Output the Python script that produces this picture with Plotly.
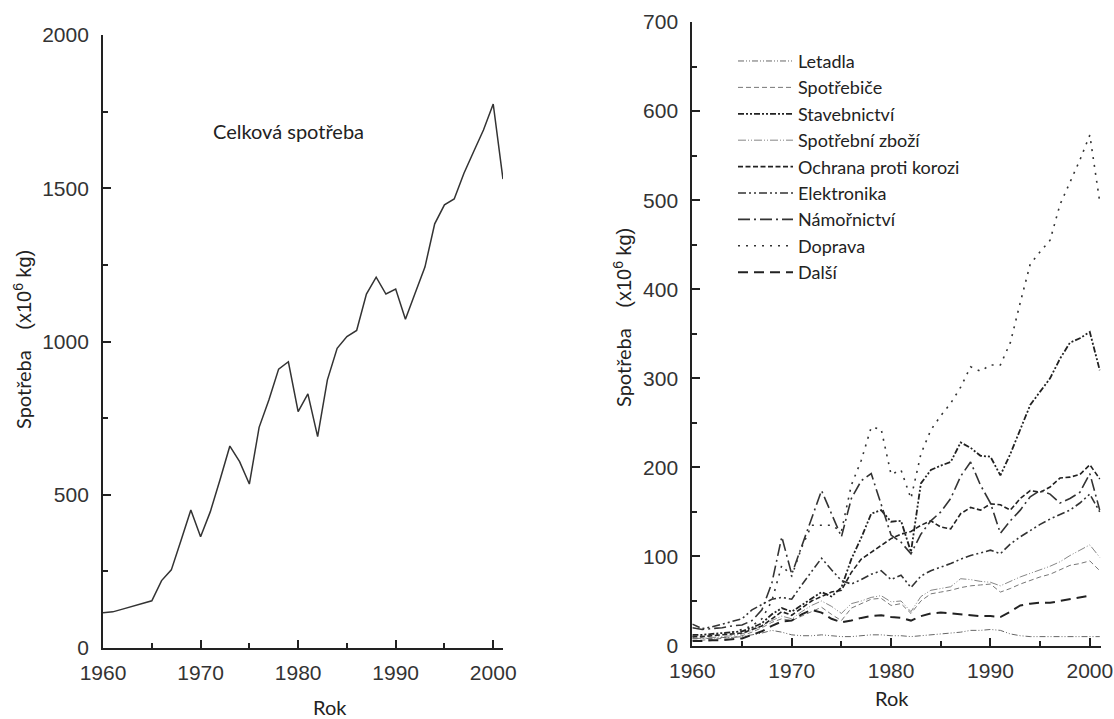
import plotly.graph_objects as go

years = [1960, 1961, 1962, 1963, 1964, 1965, 1966, 1967, 1968, 1969,
         1970, 1971, 1972, 1973, 1974, 1975, 1976, 1977, 1978, 1979,
         1980, 1981, 1982, 1983, 1984, 1985, 1986, 1987, 1988, 1989,
         1990, 1991, 1992, 1993, 1994, 1995, 1996, 1997, 1998, 1999,
         2000, 2001]

celkova = [115, 118, 127, 136, 145, 154, 220, 255, 352, 450,
           363, 445, 550, 659, 608, 535, 720, 809, 910, 934,
           771, 829, 690, 875, 978, 1016, 1036, 1155, 1210, 1155,
           1171, 1073, 1158, 1243, 1384, 1446, 1465, 1549, 1620, 1690,
           1775, 1530]

letadla = [8, 8, 8, 9, 9, 10, 12, 14, 17, 15,
           12, 11, 11, 12, 11, 10, 10, 11, 12, 12,
           11, 11, 10, 11, 12, 13, 14, 15, 17, 17,
           18, 17, 13, 11, 10, 10, 10, 10, 10, 10,
           10, 10]
spotrebice = [6, 6, 7, 8, 9, 11, 15, 20, 26, 30,
              28, 33, 38, 43, 35, 28, 42, 47, 52, 53,
              45, 47, 36, 50, 58, 60, 62, 65, 67, 68,
              69, 60, 64, 69, 73, 77, 80, 85, 90, 92,
              95, 84]
stavebnictvi = [12, 12, 13, 14, 15, 16, 20, 25, 35, 42,
                38, 45, 52, 60, 55, 65, 97, 121, 148, 152,
                139, 140, 105, 182, 197, 202, 206, 228, 222, 213,
                212, 191, 215, 242, 270, 285, 300, 322, 340, 345,
                352, 309]
spotrebni_zbozi = [8, 8, 9, 10, 11, 13, 17, 22, 28, 33,
                   30, 38, 45, 50, 44, 36, 47, 50, 54, 56,
                   49, 50, 38, 55, 62, 64, 66, 75, 74, 72,
                   71, 67, 72, 77, 81, 85, 89, 94, 101, 107,
                   113, 99]
ochrana = [10, 10, 11, 12, 13, 14, 18, 22, 30, 38,
           34, 42, 50, 55, 60, 62, 82, 97, 105, 112,
           120, 125, 128, 135, 140, 133, 131, 148, 155, 152,
           159, 158, 152, 165, 174, 172, 178, 188, 189, 192,
           203, 187]
elektronika = [24, 19, 21, 24, 27, 30, 40, 46, 52, 54,
               52, 68, 83, 98, 85, 73, 69, 74, 80, 84,
               74, 79, 65, 78, 84, 88, 92, 97, 101, 104,
               107, 103, 114, 122, 129, 136, 142, 147, 152, 160,
               170, 150]
namornictvi = [20, 18, 19, 20, 22, 23, 28, 40, 70, 122,
               80, 112, 143, 174, 148, 122, 165, 185, 193, 159,
               124, 116, 103, 125, 140, 150, 165, 190, 206, 180,
               160, 126, 140, 152, 167, 174, 170, 160, 165, 172,
               193, 152]
doprava = [10, 10, 11, 13, 15, 18, 22, 30, 50, 90,
           78, 110, 135, 135, 135, 128, 180, 208, 245, 243,
           192, 197, 165, 215, 242, 258, 272, 290, 313, 308,
           315, 315, 340, 385, 428, 442, 455, 495, 520, 545,
           573, 498]
dalsi = [5, 5, 6, 6, 7, 8, 12, 16, 22, 27,
         28, 35, 40, 37, 30, 26, 28, 31, 33, 34,
         32, 31, 28, 33, 36, 37, 36, 35, 34, 33,
         33, 32, 38, 45, 47, 48, 48, 50, 52, 54,
         56, None]

series_names = ["Letadla", "Spotřebiče", "Stavebnictví", "Spotřební zboží",
                "Ochrana proti korozi", "Elektronika", "Námořnictví", "Doprava", "Další"]
series_values = [letadla, spotrebice, stavebnictvi, spotrebni_zbozi,
                 ochrana, elektronika, namornictvi, doprava, dalsi]
series_styles = [
    dict(color="#666666", width=1.0, dash="6px,2px,1px,2px,1px,2px"),
    dict(color="#777777", width=1.0, dash="5px,3px"),
    dict(color="#222222", width=1.8, dash="6px,2px,2px,2px,2px,2px"),
    dict(color="#777777", width=0.9, dash="8px,2px,1px,2px,1px,2px"),
    dict(color="#222222", width=1.6, dash="5px,2.5px"),
    dict(color="#333333", width=1.6, dash="8px,3px,2px,3px,2px,3px"),
    dict(color="#333333", width=1.6, dash="12px,4px,2px,4px"),
    dict(color="#333333", width=1.6, dash="2px,6px"),
    dict(color="#222222", width=2.0, dash="10px,6px"),
]

TXT = "Lato"
NUM = "Liberation Sans"

fig = go.Figure()
fig.add_trace(go.Scatter(x=years, y=celkova, mode="lines", showlegend=False,
                         line=dict(color="#333333", width=1.5),
                         xaxis="x", yaxis="y"))
for i, (nm, vals, st) in enumerate(zip(series_names, series_values, series_styles)):
    fig.add_trace(go.Scatter(x=years, y=vals, mode="lines", name=nm,
                             line=st, xaxis="x2", yaxis="y2"))

axis_common = dict(showline=True, linecolor="#222222", linewidth=2,
                   ticks="inside", ticklen=8, tickwidth=2, tickcolor="#222222",
                   showgrid=False, zeroline=False, automargin=False,
                   tickfont=dict(family=NUM, size=21, color="#333333"))
minor_common = dict(ticks="inside", ticklen=5, tickwidth=2, tickcolor="#222222")

fig.update_layout(
    width=1114, height=719,
    margin=dict(l=0, r=0, t=0, b=0, autoexpand=False),
    paper_bgcolor="white", plot_bgcolor="white",
    xaxis=dict(domain=[0.0925, 0.4515], range=[1960, 2001], dtick=10, tick0=1960,
               minor=dict(dtick=5, **minor_common),
               anchor="y", ticklabelstandoff=5, **axis_common),
    yaxis=dict(domain=[0.0987, 0.9513], range=[0, 2000], dtick=500,
               minor=dict(dtick=250, **minor_common),
               anchor="x", ticklabelstandoff=8, **axis_common),
    xaxis2=dict(domain=[0.6215, 0.9881], range=[1960, 2001.1], dtick=10, tick0=1960,
                minor=dict(dtick=5, **minor_common),
                anchor="y2", ticklabelstandoff=5, **axis_common),
    yaxis2=dict(domain=[0.1022, 0.9694], range=[0, 700], dtick=100,
                minor=dict(dtick=50, **minor_common),
                anchor="x2", ticklabelstandoff=8, **axis_common),
    legend=dict(x=0.658, y=0.9405, xanchor="left", yanchor="top",
                font=dict(family=TXT, size=18, color="#222222"),
                bgcolor="rgba(0,0,0,0)", itemwidth=55, tracegroupgap=0),
    font=dict(family=TXT, color="#222222"),
)

def ann(text, xpx, ypx, size, angle=0):
    fig.add_annotation(text=text, xref="paper", yref="paper",
                       x=xpx / 1114, y=1 - ypx / 719, xanchor="center", yanchor="middle",
                       showarrow=False, textangle=angle,
                       font=dict(family=TXT, size=size, color="#222222"))

ytitle = ("Spotřeba&nbsp;&nbsp;&nbsp;&nbsp;"
          "<span style='font-family:Liberation Sans'>(x10<sup>6</sup> kg)</span>")
ann("Celková spotřeba", 289, 131, 20)
ann("Rok", 330, 707, 20)
ann("Rok", 892, 698, 20)
ann(ytitle, 22, 340, 20, -90)
ann(ytitle, 622, 318, 20, -90)

fig.write_html("out.html")
